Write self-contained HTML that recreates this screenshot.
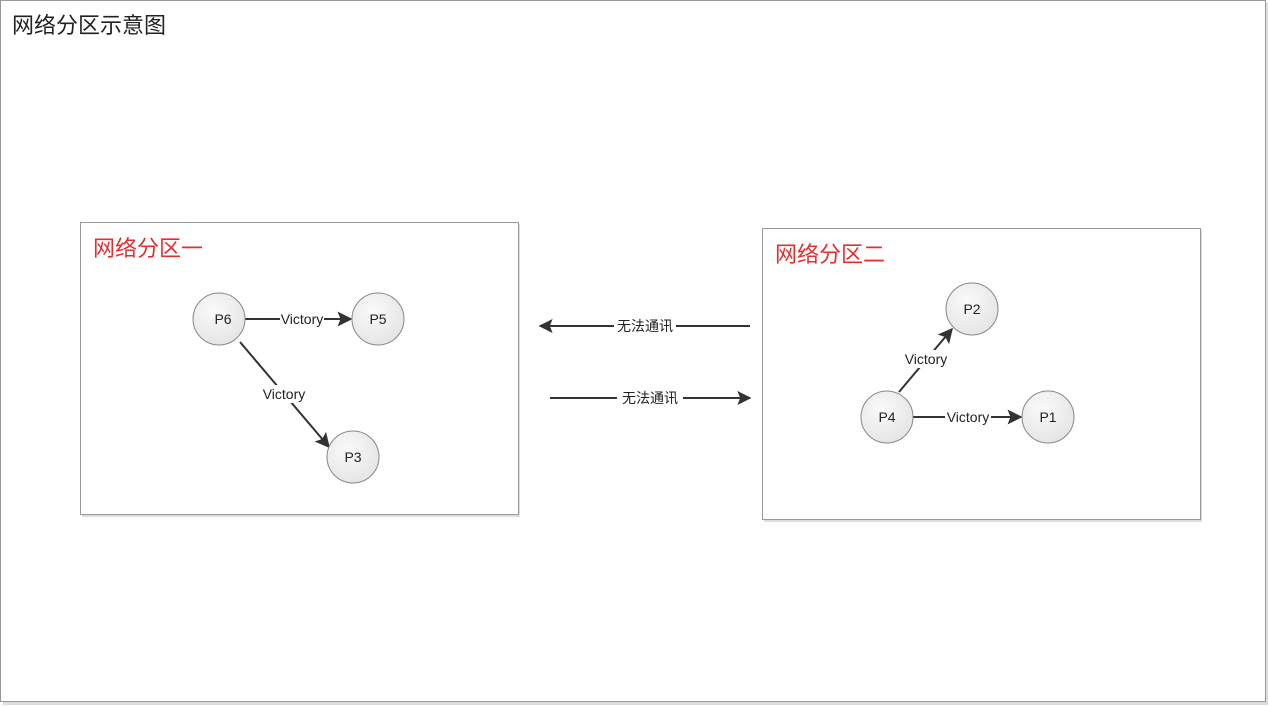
<!DOCTYPE html>
<html><head><meta charset="utf-8"><style>
body{margin:0;background:#fff;}
svg{display:block;font-family:"Liberation Sans","Noto Sans CJK SC",sans-serif;}
</style></head><body>
<svg width="1269" height="706" viewBox="0 0 1269 706" xmlns="http://www.w3.org/2000/svg">
<defs>
<radialGradient id="g" cx="40%" cy="35%" r="70%"><stop offset="0" stop-color="#fafafa"/><stop offset="1" stop-color="#e4e4e4"/></radialGradient>
<marker id="a" viewBox="0 0 10 10" refX="9" refY="5" markerWidth="15" markerHeight="15" markerUnits="userSpaceOnUse" orient="auto"><path d="M0,0 L10,5 L0,10 L2,5 z" fill="#333"/></marker>
<marker id="b" viewBox="0 0 10 10" refX="9" refY="5" markerWidth="14" markerHeight="14" markerUnits="userSpaceOnUse" orient="auto"><path d="M0,0 L10,5 L0,10 L2,5 z" fill="#333"/></marker>
</defs>
<rect x="3" y="3" width="1265" height="702" fill="#ddd"/>
<rect x="0.5" y="0.5" width="1265" height="701" fill="#fff" stroke="#999"/>
<text x="12" y="33" font-size="22" fill="#222">网络分区示意图</text>
<rect x="82" y="224" width="438" height="293" fill="#ddd"/>
<rect x="80.5" y="222.5" width="438" height="292" fill="#fff" stroke="#999"/>
<text x="93" y="256" font-size="22" fill="#e03030">网络分区一</text>
<rect x="764" y="230" width="438" height="292" fill="#ddd"/>
<rect x="762.5" y="228.5" width="438" height="291" fill="#fff" stroke="#999"/>
<text x="775" y="262" font-size="22" fill="#e03030">网络分区二</text>

<g stroke="#333" stroke-width="2" fill="none">
<line x1="245" y1="319" x2="351" y2="319" marker-end="url(#a)"/>
<line x1="240" y1="342" x2="329" y2="447" marker-end="url(#a)"/>
<line x1="899" y1="392" x2="952" y2="329" marker-end="url(#a)"/>
<line x1="913" y1="417" x2="1021" y2="417" marker-end="url(#a)"/>
<line x1="750" y1="326" x2="540" y2="326" marker-end="url(#b)"/>
<line x1="550" y1="398" x2="750" y2="398" marker-end="url(#b)"/>
</g>
<g font-size="14" fill="#222" text-anchor="middle">
<rect x="280" y="310" width="44" height="18" fill="#fff"/><text x="302" y="324">Victory</text>
<rect x="261" y="385" width="46" height="18" fill="#fff"/><text x="284" y="399">Victory</text>
<rect x="903" y="350" width="46" height="18" fill="#fff"/><text x="926" y="364">Victory</text>
<rect x="945" y="409" width="46" height="16" fill="#fff"/><text x="968" y="422">Victory</text>
<rect x="614" y="317" width="62" height="18" fill="#fff"/><text x="645" y="331">无法通讯</text>
<rect x="617" y="389" width="66" height="18" fill="#fff"/><text x="650" y="403">无法通讯</text>
</g>
<g stroke="#888" stroke-width="1" fill="url(#g)">
<circle cx="219" cy="319" r="26"/><circle cx="378" cy="319" r="26"/><circle cx="353" cy="457" r="26"/>
<circle cx="972" cy="309" r="26"/><circle cx="887" cy="417" r="26"/><circle cx="1048" cy="417" r="26"/>
</g>
<g font-size="14" fill="#222" text-anchor="middle">
<text x="223" y="324">P6</text><text x="378" y="324">P5</text><text x="353" y="462">P3</text>
<text x="972" y="314">P2</text><text x="887" y="422">P4</text><text x="1048" y="422">P1</text>
</g>
</svg>
</body></html>
